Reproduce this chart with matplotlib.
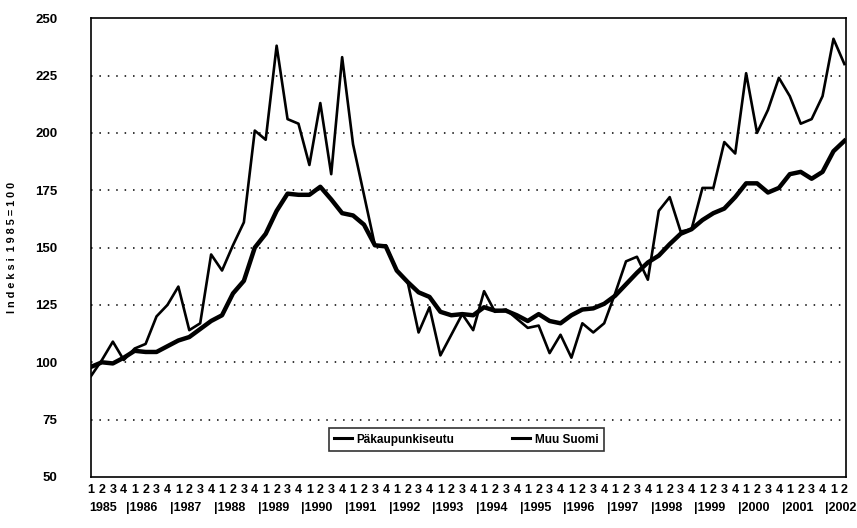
import numpy as np
import matplotlib
matplotlib.use("Agg")
import matplotlib.pyplot as plt
import matplotlib.transforms as mtransforms

plt.rcParams['font.family'] = ['Liberation Sans', 'DejaVu Sans']

years = list(range(1985, 2003))
quarters = [str(q) for y in years[:-1] for q in (1, 2, 3, 4)] + ['1', '2']

# index 1985=100, quarterly 1985Q1 .. 2002Q2
paakaupunkiseutu = [94, 101, 109, 101, 106, 108, 120, 125, 133, 114, 117, 147,
                    140, 151, 161, 201, 197, 238, 206, 204, 186, 213, 182, 233,
                    195, 173, 151, 151, 140, 135, 113, 124, 103, 112, 121, 114,
                    131, 122, 123, 119, 115, 116, 104, 112, 102, 117, 113, 117,
                    130, 144, 146, 136, 166, 172, 157, 158, 176, 176, 196, 191,
                    226, 200, 210, 224, 216, 204, 206, 216, 241, 230]
muu_suomi = [98, 100, 99.5, 102, 105, 104.5, 104.5, 107, 109.5, 111, 114.5, 118,
             120.5, 130, 135.5, 150, 156, 166, 173.5, 173, 173, 176.5, 171, 165,
             164, 160, 151, 150.5, 140, 135, 130.5, 128.5, 122, 120.5, 121, 120.5,
             124, 122.5, 122.5, 120.5, 118, 121, 118, 117, 120.5, 123, 123.5, 125.5,
             129, 134, 139, 143.5, 146.5, 151.5, 156, 158, 162, 165, 167, 172,
             178, 178, 174, 176, 182, 183, 180, 183, 192, 196.5]

x = np.arange(len(quarters))

fig = plt.figure(figsize=(8.57, 5.28), dpi=100)
ax = fig.add_axes([0.1062, 0.0966, 0.881, 0.869])

ax.plot(x, paakaupunkiseutu, color='black', lw=1.9, label='Päkaupunkiseutu')
ax.plot(x, muu_suomi, color='black', lw=3.2, label='Muu Suomi')

ax.set_ylim(50, 250)
ax.set_xlim(0, len(x) - 1 + 0.15)
ax.set_yticks(range(50, 251, 25))
for v in range(75, 250, 25):
    ax.axhline(v, color='black', lw=1.1, ls=(0, (1, 4.5)), zorder=0)

ax.set_xticks(x)
ax.set_xticklabels(quarters, fontsize=9, fontweight='bold')
ax.tick_params(axis='x', length=0, pad=5)
ax.tick_params(axis='y', length=0, pad=24, labelsize=9.5)
for t in ax.get_yticklabels():
    t.set_fontweight('bold')

for s in ax.spines.values():
    s.set_linewidth(1.2)

trans = mtransforms.blended_transform_factory(ax.transData, ax.transAxes)
for i, yr in enumerate(years):
    lbl = str(yr) if i == 0 else '|' + str(yr)
    xpos = -0.2 if i == 0 else 4 * i - 0.75
    ax.text(xpos, -0.068, lbl, transform=trans, ha='left', va='center',
            fontsize=9, fontweight='bold')

ax.set_ylabel('I n d e k s i  1 9 8 5 = 1 0 0', fontsize=7.8, fontweight='bold')
ax.yaxis.set_label_coords(-0.098, 0.5)

leg = ax.legend(loc='lower left', bbox_to_anchor=(0.307, 0.044, 0.38, 0.06),
                mode='expand', ncol=2, frameon=True, fancybox=False,
                edgecolor='black', handlelength=1.5, handletextpad=0.4,
                prop={'weight': 'bold', 'size': 8.5}, borderpad=0.45)
leg.get_frame().set_linewidth(1.2)
for h in leg.get_lines():
    h.set_linewidth(2.2)

fig.savefig('out.png', dpi=100)
